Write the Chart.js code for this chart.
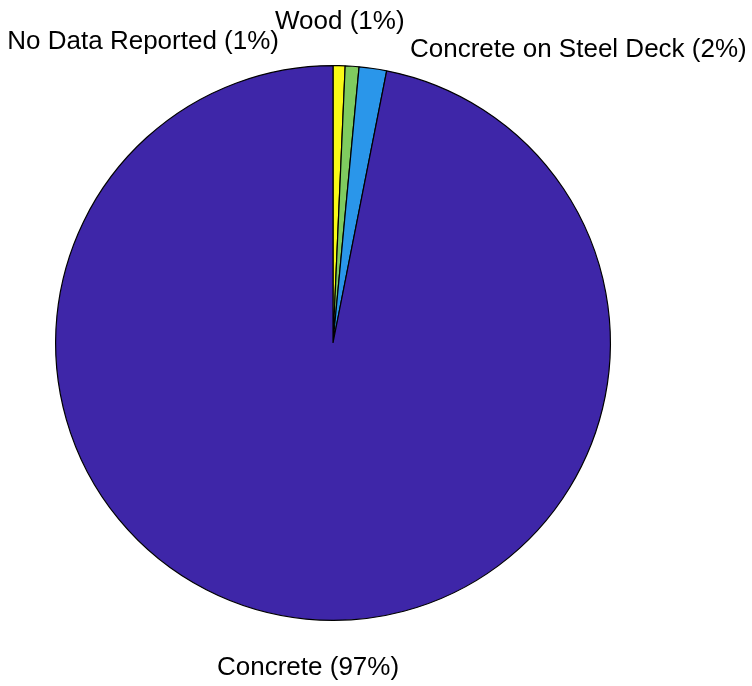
<!DOCTYPE html>
<html>
<head>
<meta charset="utf-8">
<script src="https://cdn.jsdelivr.net/npm/chart.js@4.4.1/dist/chart.umd.min.js"></script>
<style>
  html, body { margin: 0; padding: 0; background: #ffffff; }
  #wrap { width: 752px; height: 686px; position: relative; }
</style>
</head>
<body>
<div id="wrap"><canvas id="pie"></canvas></div>
<script>
// Floor system types, share of buildings (%)
const categories = ['No Data Reported', 'Wood', 'Concrete on Steel Deck', 'Concrete'];
const shares = [0.7, 0.8, 1.6, 96.9];
const sliceColors = ['#F9F916', '#7FCB5F', '#2A96EA', '#3E26A8'];

// Label anchors relative to the pie centre, in pixels, plus text alignment
const labelPlacement = [
  { dx: -54, dy: -294, align: 'right' },
  { dx: -58, dy: -314, align: 'left' },
  { dx: 77,  dy: -286, align: 'left' },
  { dx: -116, dy: 332, align: 'left' }
];

const pieLabels = {
  id: 'pieLabels',
  afterDraw(chart) {
    const arc = chart.getDatasetMeta(0).data[0];
    if (!arc) return;
    const { x, y } = arc.getProps(['x', 'y'], true);
    const ctx = chart.ctx;
    const total = shares.reduce((a, b) => a + b, 0);
    ctx.save();
    ctx.font = '26px "Liberation Sans", Arial, sans-serif';
    ctx.fillStyle = '#000000';
    ctx.textBaseline = 'alphabetic';
    categories.forEach((name, i) => {
      const pct = Math.round(shares[i] / total * 100);
      const p = labelPlacement[i];
      ctx.textAlign = p.align;
      ctx.fillText(name + ' (' + pct + '%)', x + p.dx, y + p.dy);
    });
    ctx.restore();
  }
};

new Chart(document.getElementById('pie'), {
  type: 'pie',
  data: {
    labels: categories,
    datasets: [{
      data: shares,
      backgroundColor: sliceColors,
      borderColor: '#000000',
      borderWidth: 1.2
    }]
  },
  options: {
    responsive: true,
    maintainAspectRatio: false,
    animation: false,
    layout: { padding: { left: 55, right: 141, top: 65, bottom: 65 } },
    plugins: {
      legend: { display: false },
      tooltip: { enabled: false }
    }
  },
  plugins: [pieLabels]
});
</script>
</body>
</html>
